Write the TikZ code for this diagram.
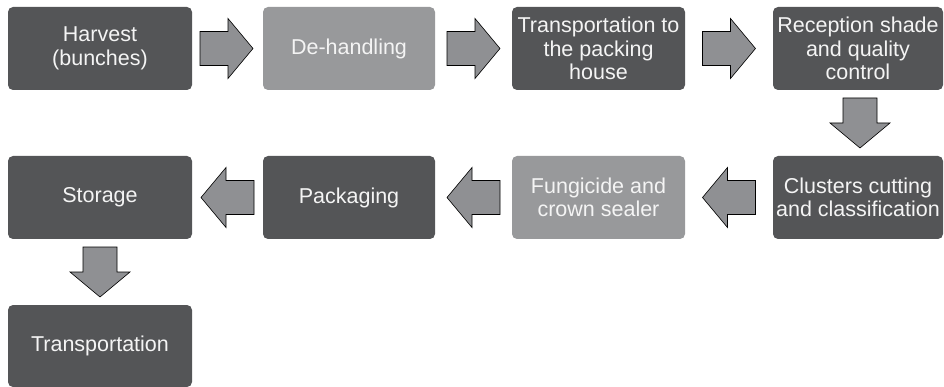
\documentclass[tikz,border=0pt]{standalone}
\usepackage{fontspec}
\setmainfont{Liberation Sans}
\usetikzlibrary{calc}
\definecolor{darkbox}{HTML}{545557}
\definecolor{lightbox}{HTML}{98999B}
\definecolor{arrowfill}{HTML}{8F9093}
\definecolor{boxtext}{HTML}{F4F4F4}
\tikzset{
  stepbox/.style={rounded corners=5pt, inner sep=0pt, text=boxtext, align=center,
    font=\fontsize{21.5}{23.5}\selectfont},
  darkstep/.style={stepbox, fill=darkbox},
  lightstep/.style={stepbox, fill=lightbox},
  blockarrow/.style={draw=black, line width=0.6pt, fill=arrowfill, line join=miter},
}
% #1 = centre coordinate name, #2 = rotation, #3 = half length
\newcommand\myblockarrow[3]{%
  \draw[blockarrow, shift={(#1)}, rotate=#2]
    (-#3,-17) -- ({#3-25},-17) -- ({#3-25},-30) -- (#3,0)
    -- ({#3-25},30) -- ({#3-25},17) -- (-#3,17) -- cycle;}
\begin{document}
\begin{tikzpicture}[x=1pt,y=-1pt]
\useasboundingbox (0,0) rectangle (944,387);
% row 1
\node[darkstep, minimum width=184pt, minimum height=83pt] (harvest) at (100,48.5) {Harvest\\(bunches)};
\node[lightstep, minimum width=172pt, minimum height=83pt] (dehand) at (349,48.5) {De-handling};
\node[darkstep, minimum width=173pt, minimum height=83pt] (transp) at (598.5,48.5) {Transportation to\\the packing\\house};
\node[darkstep, minimum width=170pt, minimum height=83pt] (recep) at (858,48.5) {Reception shade\\and quality\\control};
% row 2
\node[darkstep, minimum width=184pt, minimum height=83pt] (storage) at (100,197.5) {Storage};
\node[darkstep, minimum width=172pt, minimum height=83pt] (pack) at (349,197.5) {Packaging};
\node[lightstep, minimum width=173pt, minimum height=83pt] (fung) at (598.5,197.5) {Fungicide and\\crown sealer};
\node[darkstep, minimum width=170pt, minimum height=83pt] (clust) at (858,197.5) {Clusters cutting\\and classification};
% row 3
\node[darkstep, minimum width=184pt, minimum height=82pt] (final) at (100,346) {Transportation};
% arrow centres
\coordinate (a1) at ($(harvest.east)!0.5!(dehand.west)+(-1,0)$);
\coordinate (a2) at ($(dehand.east)!0.5!(transp.west)$);
\coordinate (a3) at ($(transp.east)!0.5!(recep.west)$);
\coordinate (a4) at ($(recep.south)!0.5!(clust.north)+(2,0)$);
\coordinate (a5) at ($(fung.east)!0.5!(clust.west)$);
\coordinate (a6) at ($(pack.east)!0.5!(fung.west)$);
\coordinate (a7) at ($(storage.east)!0.5!(pack.west)$);
\coordinate (a8) at ($(storage.south)!0.5!(final.north)$);
\myblockarrow{a1}{0}{26.5}
\myblockarrow{a2}{0}{26.5}
\myblockarrow{a3}{0}{26.5}
\myblockarrow{a4}{-90}{25}
\myblockarrow{a5}{180}{26.5}
\myblockarrow{a6}{180}{26.5}
\myblockarrow{a7}{180}{26.5}
\myblockarrow{a8}{-90}{25}
\end{tikzpicture}
\end{document}
